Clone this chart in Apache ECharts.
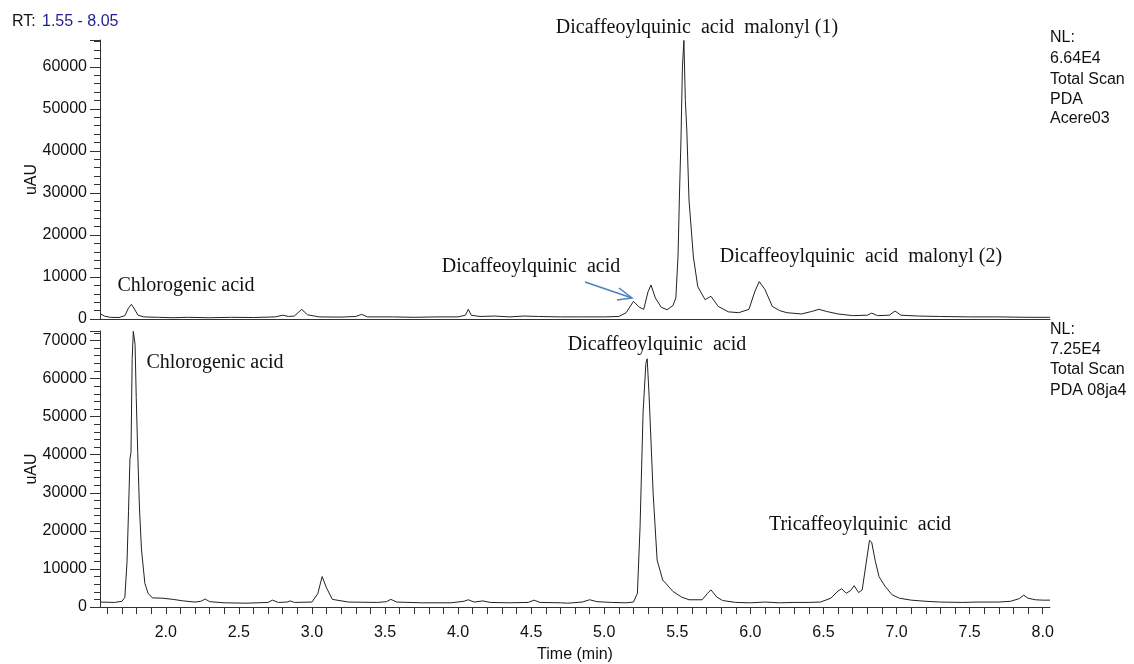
<!DOCTYPE html>
<html>
<head>
<meta charset="utf-8">
<title>Chromatogram</title>
<script src="https://cdn.jsdelivr.net/npm/echarts@6/dist/echarts.min.js"></script>
<style>
  html, body { margin: 0; padding: 0; background: #fff; }
  #chart { width: 1134px; height: 664px; }
</style>
</head>
<body>
<div id="chart"></div>
<script>
// top trace: Acere03 (time in min, uAU)
var topTimes = [1.55, 1.58, 1.62, 1.68, 1.72, 1.745, 1.765, 1.785, 1.81, 1.85, 1.95, 2.05, 2.15, 2.3, 2.45, 2.6, 2.75, 2.8, 2.84, 2.88,
  2.93, 2.97, 3.05, 3.2, 3.3, 3.34, 3.38, 3.55, 3.7, 3.85, 4.0, 4.05, 4.07, 4.09, 4.15, 4.25, 4.35, 4.45, 4.55, 4.7,
  4.85, 5.0, 5.1, 5.15, 5.2, 5.24, 5.27, 5.3, 5.32, 5.35, 5.39, 5.43, 5.47, 5.49, 5.505, 5.515, 5.525, 5.535, 5.545, 5.555,
  5.565, 5.58, 5.61, 5.64, 5.69, 5.73, 5.78, 5.85, 5.92, 5.99, 6.03, 6.06, 6.1, 6.15, 6.2, 6.25, 6.35, 6.42, 6.47, 6.52,
  6.6, 6.7, 6.8, 6.83, 6.87, 6.95, 6.99, 7.03, 7.15, 7.3, 7.5, 7.7, 7.9, 8.05];
var topValues = [1300, 700, 400, 350, 800, 2600, 3500, 2400, 900, 500, 400, 300, 400, 300, 400, 350, 500, 900, 600, 700,
  2300, 1000, 500, 450, 600, 1100, 500, 500, 400, 500, 500, 900, 2300, 900, 600, 700, 500, 700, 600, 500,
  500, 500, 600, 1500, 4200, 2800, 2300, 6500, 8100, 5000, 2800, 2200, 3200, 5000, 15000, 30000, 42600, 60000, 66300, 52000,
  45000, 28300, 14800, 7700, 4600, 5400, 3000, 1700, 1500, 2300, 6500, 8900, 7000, 3000, 2000, 1500, 1200, 1800, 2300, 1800,
  1200, 800, 900, 1400, 800, 900, 1900, 900, 700, 600, 500, 500, 400, 400];

// bottom trace: 08ja4
var bottomTimes = [1.55, 1.65, 1.7, 1.72, 1.735, 1.745, 1.755, 1.762, 1.77, 1.778, 1.79, 1.798, 1.808, 1.82, 1.834, 1.857, 1.88, 1.91, 1.98, 2.05,
  2.12, 2.2, 2.24, 2.27, 2.3, 2.4, 2.55, 2.7, 2.73, 2.77, 2.83, 2.85, 2.88, 3.0, 3.04, 3.07, 3.1, 3.14, 3.25, 3.45,
  3.51, 3.54, 3.58, 3.75, 3.95, 4.04, 4.07, 4.11, 4.17, 4.22, 4.35, 4.48, 4.52, 4.56, 4.7, 4.75, 4.85, 4.9, 4.95, 5.05,
  5.15, 5.2, 5.227, 5.245, 5.266, 5.285, 5.294, 5.307, 5.335, 5.362, 5.4, 5.47, 5.53, 5.58, 5.67, 5.705, 5.73, 5.77, 5.81, 5.9,
  6.0, 6.1, 6.2, 6.3, 6.4, 6.48, 6.55, 6.6, 6.625, 6.655, 6.685, 6.71, 6.74, 6.765, 6.79, 6.815, 6.83, 6.855, 6.88, 6.92,
  6.97, 7.02, 7.1, 7.2, 7.3, 7.45, 7.55, 7.7, 7.78, 7.84, 7.87, 7.9, 7.95, 8.0, 8.05];
var bottomValues = [1300, 1200, 1500, 2500, 12000, 25000, 39000, 40500, 65000, 72400, 69000, 55000, 40800, 26000, 15000, 6200, 3500, 2400, 2300, 2000,
  1600, 1300, 1500, 2100, 1400, 1100, 1000, 1200, 1800, 1200, 1300, 1600, 1200, 1300, 3500, 8000, 5000, 2000, 1300, 1200,
  1400, 2000, 1300, 1100, 1100, 1500, 1900, 1300, 1600, 1200, 1100, 1200, 1800, 1200, 1100, 1000, 1300, 1900, 1400, 1200,
  1100, 1300, 3600, 20900, 51200, 64000, 65200, 55500, 29600, 12300, 7100, 4100, 2600, 1900, 1900, 3500, 4500, 2600, 1700, 1200,
  1100, 1300, 1100, 1200, 1200, 1300, 2300, 4200, 4800, 3600, 4300, 5600, 3800, 4500, 11000, 17500, 17000, 12000, 8000, 5500,
  3200, 2300, 1800, 1500, 1300, 1200, 1300, 1300, 1500, 2200, 3100, 2300, 1900, 1800, 1800];

var xLabelValues = [2.0, 2.5, 3.0, 3.5, 4.0, 4.5, 5.0, 5.5, 6.0, 6.5, 7.0, 7.5, 8.0];
var xTickValues = [];
for (var t = 16; t <= 80; t++) xTickValues.push(t / 10);

function pairs(xs, ys) {
  return xs.map(function (x, i) { return [x, ys[i]]; });
}

var sans = "'Liberation Sans', Arial, sans-serif";
var serif = "'Liberation Serif', 'Times New Roman', serif";
var axisCol = '#333';

function yAxisFor(idx, maxVal) {
  return {
    type: 'value', gridIndex: idx, min: 0, max: maxVal, interval: 10000,
    name: 'uAU', nameLocation: 'middle', nameGap: 60, nameMoveOverlap: false,
    nameTextStyle: { fontFamily: sans, fontSize: 16, color: '#111' },
    axisLine: { show: true, lineStyle: { color: axisCol, width: 1 } },
    axisTick: { show: true, length: 10, lineStyle: { color: axisCol } },
    minorTick: { show: true, splitNumber: 5, length: 6, lineStyle: { color: axisCol } },
    axisLabel: { fontFamily: sans, fontSize: 16, color: '#111', margin: 13, showMaxLabel: false,
      formatter: function (v) { return String(v); } },
    splitLine: { show: false }
  };
}

function txt(x, y, s, size, font, color, align) {
  return {
    type: 'text', x: x, y: y,
    style: { text: s, fill: color || '#111', font: size + 'px ' + font,
      textAlign: align || 'center', textVerticalAlign: 'middle' }
  };
}

var chart = echarts.init(document.getElementById('chart'));
chart.setOption({
  animation: false,
  backgroundColor: '#fff',
  grid: [
    { left: 100, top: 40, width: 950, height: 279 },
    { left: 100, top: 331, width: 950, height: 280 }
  ],
  xAxis: [
    {
      type: 'value', gridIndex: 0, min: 1.55, max: 8.05,
      axisLine: { show: true, onZero: false, lineStyle: { color: axisCol } },
      axisTick: { show: false }, axisLabel: { show: false }, splitLine: { show: false }
    },
    {
      type: 'value', gridIndex: 1, min: 1.55, max: 8.05,
      name: 'Time (min)', nameLocation: 'middle', nameGap: 40,
      nameTextStyle: { fontFamily: sans, fontSize: 16, color: '#111' },
      axisLine: { show: true, onZero: false, lineStyle: { color: axisCol } },
      axisTick: { show: true, length: 7, customValues: xTickValues, lineStyle: { color: axisCol } },
      axisLabel: { fontFamily: sans, fontSize: 16, color: '#111', margin: 18, customValues: xLabelValues,
        formatter: function (v) { return v.toFixed(1); } },
      splitLine: { show: false }
    }
  ],
  yAxis: [yAxisFor(0, 66400), yAxisFor(1, 72500)],
  series: [
    { type: 'line', xAxisIndex: 0, yAxisIndex: 0, data: pairs(topTimes, topValues), showSymbol: false,
      lineStyle: { color: '#222', width: 1 }, silent: true },
    { type: 'line', xAxisIndex: 1, yAxisIndex: 1, data: pairs(bottomTimes, bottomValues), showSymbol: false,
      lineStyle: { color: '#222', width: 1 }, silent: true }
  ],
  graphic: [
    // header
    txt(12, 22, 'RT:', 16, sans, '#111', 'left'),
    txt(42, 22, '1.55 - 8.05', 16, sans, '#1f1f8f', 'left'),
    // right side info
    txt(1050, 38, 'NL:', 16, sans, '#111', 'left'),
    txt(1050, 59, '6.64E4', 16, sans, '#111', 'left'),
    txt(1050, 80, 'Total Scan', 16, sans, '#111', 'left'),
    txt(1050, 100, 'PDA', 16, sans, '#111', 'left'),
    txt(1050, 119, 'Acere03', 16, sans, '#111', 'left'),
    txt(1050, 330, 'NL:', 16, sans, '#111', 'left'),
    txt(1050, 350, '7.25E4', 16, sans, '#111', 'left'),
    txt(1050, 370, 'Total Scan', 16, sans, '#111', 'left'),
    txt(1050, 391, 'PDA 08ja4', 16, sans, '#111', 'left'),
    // peak annotations
    txt(186, 286, 'Chlorogenic acid', 20, serif),
    txt(531, 267, 'Dicaffeoylquinic  acid', 20, serif),
    txt(697, 28, 'Dicaffeoylquinic  acid  malonyl (1)', 20, serif),
    txt(861, 257, 'Dicaffeoylquinic  acid  malonyl (2)', 20, serif),
    txt(215, 363, 'Chlorogenic acid', 20, serif),
    txt(657, 345, 'Dicaffeoylquinic  acid', 20, serif),
    txt(860, 525, 'Tricaffeoylquinic  acid', 20, serif),
    // arrow
    { type: 'line', shape: { x1: 585, y1: 282, x2: 632, y2: 298 },
      style: { stroke: '#4f81bd', lineWidth: 1.5 } },
    { type: 'polyline', shape: { points: [[619, 288], [632, 298], [617, 300]] },
      style: { stroke: '#4f81bd', lineWidth: 1.5, fill: null } }
  ]
});
</script>
</body>
</html>
